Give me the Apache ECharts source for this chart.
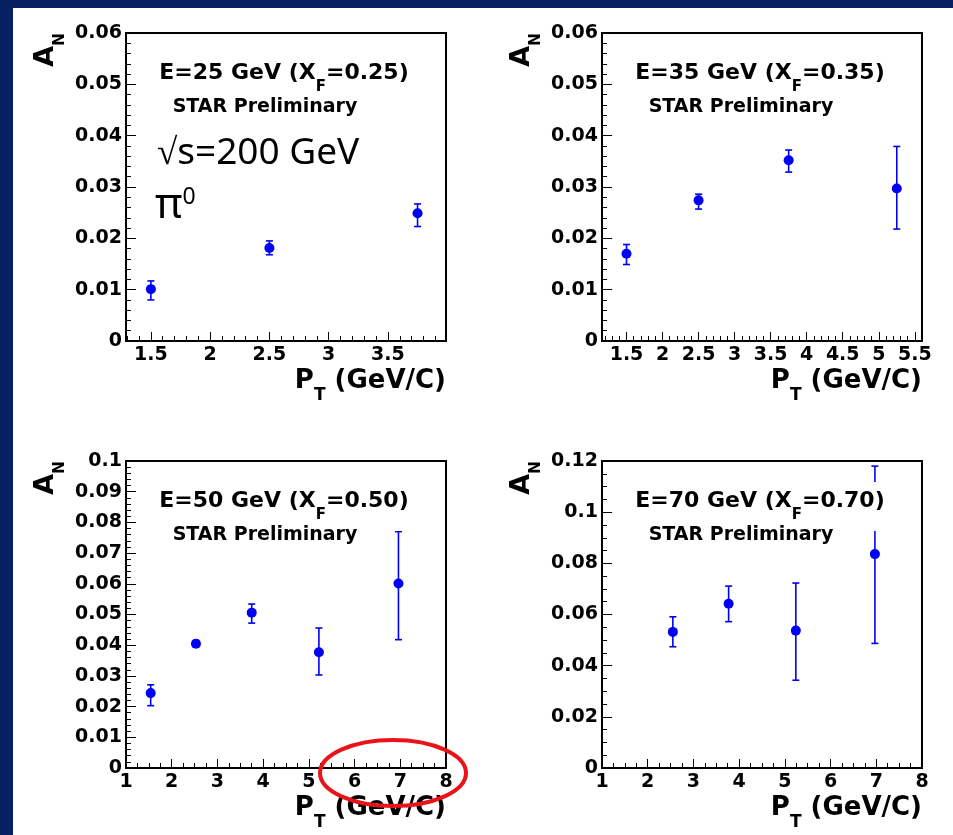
<!DOCTYPE html>
<html><head><meta charset="utf-8">
<script src="https://cdn.jsdelivr.net/npm/echarts@6/dist/echarts.min.js"></script>
<style>html,body{margin:0;padding:0;background:#fff}#c{width:953px;height:835px}</style>
</head><body><div id="c"></div>
<script>
// ---------- data ----------
const p1X  = [1.5, 2.5, 3.75];
const p1Y  = [0.0101, 0.0181, 0.0249];
const p1Lo = [0.0080, 0.0168, 0.0223];
const p1Hi = [0.0117, 0.0195, 0.0267];

const p2X  = [1.5, 2.5, 3.75, 5.25];
const p2Y  = [0.0170, 0.0274, 0.0352, 0.0297];
const p2Lo = [0.0149, 0.0257, 0.0329, 0.0218];
const p2Hi = [0.0188, 0.0286, 0.0372, 0.0379];

const p3X  = [1.54, 2.53, 3.75, 5.22, 6.96];
const p3Y  = [0.0244, 0.0405, 0.0506, 0.0377, 0.0601];
const p3Lo = [0.0203, 0.0395, 0.0472, 0.0303, 0.0418];
const p3Hi = [0.0271, 0.0415, 0.0534, 0.0456, 0.0770];

const p4X  = [2.55, 3.77, 5.24, 6.97];
const p4Y  = [0.0532, 0.0642, 0.0537, 0.0836];
const p4Lo = [0.0474, 0.0572, 0.0343, 0.0487];
const p4Hi = [0.0591, 0.0711, 0.0723, 0.1180];

// tick labels
const p1XTicks = [1.5, 2, 2.5, 3, 3.5];
const p2XTicks = [1.5, 2, 2.5, 3, 3.5, 4, 4.5, 5, 5.5];
const p34XTicks = [1, 2, 3, 4, 5, 6, 7, 8];
const p12YTicks = [0, 0.01, 0.02, 0.03, 0.04, 0.05, 0.06];
const p3YTicks = [0, 0.01, 0.02, 0.03, 0.04, 0.05, 0.06, 0.07, 0.08, 0.09, 0.1];
const p4YTicks = [0, 0.02, 0.04, 0.06, 0.08, 0.1, 0.12];

const energies = ['25', '35', '50', '70'];
const xfValues = ['0.25', '0.35', '0.50', '0.70'];
const prelimText = 'STAR Preliminary';
const sqrtsText = '\u221As=200 GeV';

// ---------- layout / style ----------
const BLUE = '#0000f5';
const ROOTFONT = 'DejaVu Sans';
const panels = [
  {x:p1X,y:p1Y,lo:p1Lo,hi:p1Hi,xt:p1XTicks,yt:p12YTicks,xr:[1.29,3.99],yr:[0,0.06],xs:0.1,ys:0.002,g:{left:126,top:33,width:320,height:308}},
  {x:p2X,y:p2Y,lo:p2Lo,hi:p2Hi,xt:p2XTicks,yt:p12YTicks,xr:[1.16,5.6],yr:[0,0.06],xs:0.1,ys:0.002,g:{left:602,top:33,width:320,height:308}},
  {x:p3X,y:p3Y,lo:p3Lo,hi:p3Hi,xt:p34XTicks,yt:p3YTicks,xr:[1,8],yr:[0,0.1],xs:0.25,ys:0.002,g:{left:126,top:461,width:320,height:307}},
  {x:p4X,y:p4Y,lo:p4Lo,hi:p4Hi,xt:p34XTicks,yt:p4YTicks,xr:[1,8],yr:[0,0.12],xs:0.25,ys:0.005,g:{left:602,top:461,width:320,height:307}}
];

function steps(min, max, step) {
  const out = [];
  for (let k = Math.ceil(min / step - 1e-9); k * step <= max + 1e-9; k++) out.push(+(k * step).toFixed(6));
  return out;
}

const grid = [], xAxis = [], yAxis = [], series = [], graphic = [];

graphic.push({type:'rect', shape:{x:0,y:0,width:953,height:8}, style:{fill:'#062063'}, z:100});
graphic.push({type:'rect', shape:{x:0,y:0,width:13,height:835}, style:{fill:'#062063'}, z:100});

const labelStyle = {fontFamily:ROOTFONT, fontWeight:'bold', fontSize:19, color:'#000'};

panels.forEach((p, i) => {
  grid.push(Object.assign({show:true, borderColor:'#000', borderWidth:2, backgroundColor:'#fff'}, p.g));
  xAxis.push({type:'value', gridIndex:i, position:'bottom', min:p.xr[0], max:p.xr[1],
    axisLine:{show:false}, splitLine:{show:false},
    axisTick:{show:true, inside:true, length:9, customValues:p.xt, lineStyle:{color:'#000', width:1}},
    axisLabel:Object.assign({customValues:p.xt, margin:5, formatter:v=>String(v)}, labelStyle)});
  xAxis.push({type:'value', gridIndex:i, position:'bottom', min:p.xr[0], max:p.xr[1],
    axisLine:{show:false}, splitLine:{show:false}, axisLabel:{show:false},
    axisTick:{show:true, inside:true, length:5, customValues:steps(p.xr[0], p.xr[1], p.xs), lineStyle:{color:'#000', width:1}}});
  yAxis.push({type:'value', gridIndex:i, position:'left', min:p.yr[0], max:p.yr[1],
    axisLine:{show:false}, splitLine:{show:false},
    axisTick:{show:true, inside:true, length:10, customValues:p.yt, lineStyle:{color:'#000', width:1}},
    axisLabel:Object.assign({customValues:p.yt, margin:4, formatter:v=>String(v)}, labelStyle)});
  yAxis.push({type:'value', gridIndex:i, position:'left', min:p.yr[0], max:p.yr[1],
    axisLine:{show:false}, splitLine:{show:false}, axisLabel:{show:false},
    axisTick:{show:true, inside:true, length:5, customValues:steps(p.yr[0], p.yr[1], p.ys), lineStyle:{color:'#000', width:1}}});

  series.push({type:'custom', xAxisIndex:2*i, yAxisIndex:2*i, z:3,
    data:p.x.map((x, j) => [x, p.lo[j], p.hi[j]]),
    encode:{x:0, y:[1,2]},
    renderItem:(params, api) => {
      const x = api.value(0);
      const t = api.coord([x, api.value(2)]);
      const b = api.coord([x, api.value(1)]);
      const st = {stroke:BLUE, lineWidth:1.6};
      return {type:'group', children:[
        {type:'line', shape:{x1:t[0], y1:t[1], x2:b[0], y2:b[1]}, style:st},
        {type:'line', shape:{x1:t[0]-3.5, y1:t[1], x2:t[0]+3.5, y2:t[1]}, style:st},
        {type:'line', shape:{x1:b[0]-3.5, y1:b[1], x2:b[0]+3.5, y2:b[1]}, style:st}
      ]};
    }});
  series.push({type:'scatter', xAxisIndex:2*i, yAxisIndex:2*i, z:4, symbol:'circle', symbolSize:10,
    itemStyle:{color:BLUE, opacity:1}, data:p.x.map((x, j) => [x, p.y[j]])});

  const gx = p.g.left, gy = p.g.top, right = gx + p.g.width, bottom = gy + p.g.height;
  const tcx = gx + 158, tcy = gy + 40;
  // white box of the title pave
  graphic.push({type:'rect', shape:{x:tcx-132, y:tcy-19, width:264, height:49}, style:{fill:'#fff'}, z:50});
  graphic.push({type:'text', x:tcx, y:tcy, z:51, style:{
    text:'{a|E=' + energies[i] + ' GeV (X}{s|F}{a|=' + xfValues[i] + ')}',
    align:'center', verticalAlign:'middle',
    rich:{a:{fontFamily:ROOTFONT, fontWeight:'bold', fontSize:22, fill:'#000'},
          s:{fontFamily:ROOTFONT, fontWeight:'bold', fontSize:15, fill:'#000', padding:[28,0,0,0]}}}});
  graphic.push({type:'text', x:gx + 139, y:gy + 74, z:51, style:{
    text:prelimText, align:'center', verticalAlign:'middle',
    fontFamily:ROOTFONT, fontWeight:'bold', fontSize:19, fill:'#000'}});
  // axis titles
  graphic.push({type:'text', x:right, y:bottom + 40, z:51, style:{
    text:'{a|P}{s|T}{a| (GeV/C)}', align:'right', verticalAlign:'middle',
    rich:{a:{fontFamily:ROOTFONT, fontWeight:'bold', fontSize:26, fill:'#000'},
          s:{fontFamily:ROOTFONT, fontWeight:'bold', fontSize:17, fill:'#000', padding:[30,0,0,0]}}}});
  graphic.push({type:'text', x:gx - 80, y:gy + 17, rotation:Math.PI/2, z:51, style:{
    text:'{a|A}{s|N}', align:'center', verticalAlign:'middle',
    rich:{a:{fontFamily:ROOTFONT, fontWeight:'bold', fontSize:27, fill:'#000'},
          s:{fontFamily:ROOTFONT, fontWeight:'bold', fontSize:15, fill:'#000', padding:[28,0,0,0]}}}});
});

// slide annotations
graphic.push({type:'text', x:157, y:153, z:60, style:{
  text:sqrtsText, align:'left', verticalAlign:'middle',
  fontFamily:'Noto Sans', fontSize:37, fill:'#000'}});
graphic.push({type:'text', x:155, y:206, z:60, style:{
  text:'{a|\u03C0}{b|0}', align:'left', verticalAlign:'middle',
  rich:{a:{fontFamily:'Noto Sans', fontSize:42, fill:'#000'},
        b:{fontFamily:'Noto Sans', fontSize:23, fill:'#000', padding:[0,0,18,0]}}}});
graphic.push({type:'ellipse', shape:{cx:393, cy:773, rx:73, ry:33}, z:70,
  style:{fill:'none', stroke:'#e8141a', lineWidth:4}});

const chart = echarts.init(document.getElementById('c'), null, {renderer:'canvas'});
chart.setOption({backgroundColor:'#fff', animation:false, grid, xAxis, yAxis, series, graphic});
</script></body></html>
